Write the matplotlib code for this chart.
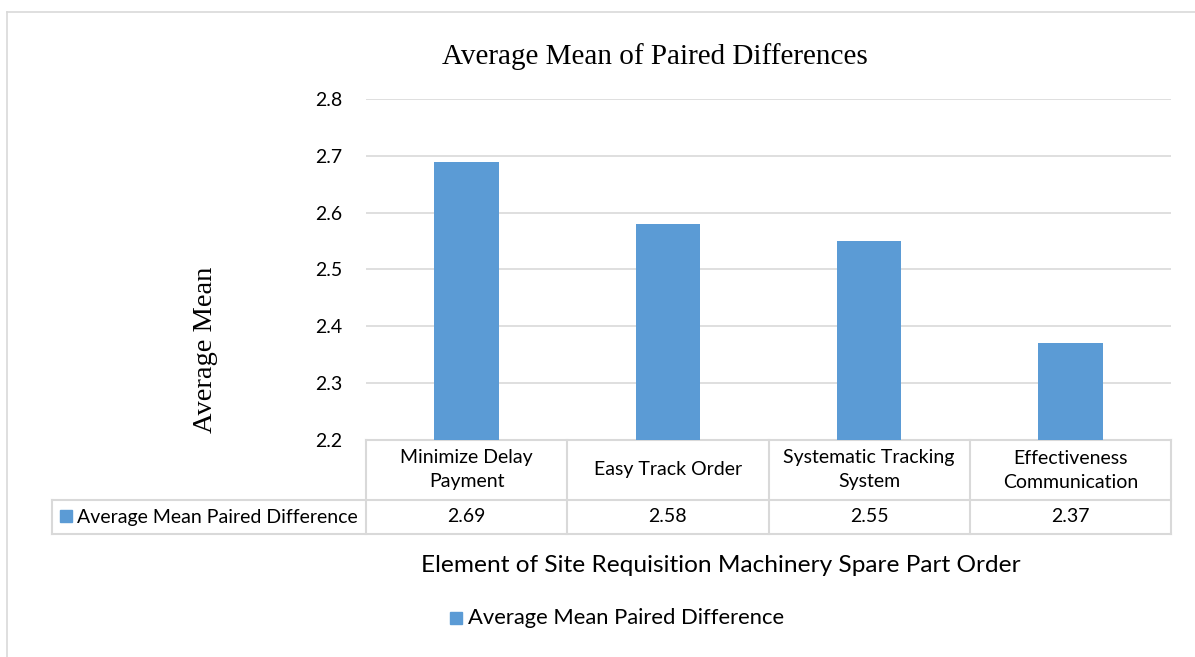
import matplotlib.pyplot as plt
import matplotlib.transforms as mtransforms

# Chart data
categories = ['Minimize Delay\nPayment', 'Easy Track Order',
              'Systematic Tracking\nSystem', 'Effectiveness\nCommunication']
values = [2.69, 2.58, 2.55, 2.37]
value_labels = ['2.69', '2.58', '2.55', '2.37']
series_name = 'Average Mean Paired Difference'
y_ticks = [2.2, 2.3, 2.4, 2.5, 2.6, 2.7, 2.8]

bar_color = '#5B9BD5'
grid_color = '#D9D9D9'
sans = ['Lato', 'DejaVu Sans']
serif = ['Liberation Serif', 'DejaVu Serif']

W, H = 1195, 657
fig = plt.figure(figsize=(W / 100, H / 100), dpi=100)

# plot area in pixels: left 366, right 1171, top 99, bottom 440
ax = fig.add_axes([366 / W, 1 - 440 / H, 805 / W, 341 / H])
x = list(range(len(categories)))
ax.bar(x, values, width=0.32, color=bar_color, zorder=3)
ax.set_xlim(-0.5, len(categories) - 0.5)
ax.set_ylim(2.2, 2.8)
ax.set_yticks(y_ticks)
ax.set_yticklabels([f'{t:.1f}' for t in y_ticks], family=sans, fontsize=14)
ax.tick_params(axis='y', length=0, pad=17)
ax.set_xticks([])
for s in ax.spines.values():
    s.set_visible(False)
ax.yaxis.grid(True, color=grid_color, linewidth=1.2, zorder=0)
ax.set_axisbelow(True)

# data table under the plot area (x in data units, y in axes units)
tr = mtransforms.blended_transform_factory(ax.transData, ax.transAxes)
row1 = -60 / 341
row2 = -94 / 341
left_edge = -0.5 - 314 / 201.25
n = len(categories)
line_kw = dict(color=grid_color, linewidth=1.5, transform=tr, clip_on=False)
ax.plot([-0.5, n - 0.5], [0, 0], **line_kw)
ax.plot([left_edge, n - 0.5], [row1, row1], **line_kw)
ax.plot([left_edge, n - 0.5], [row2, row2], **line_kw)
ax.plot([left_edge, left_edge], [row1, row2], **line_kw)
for i in range(n + 1):
    ax.plot([i - 0.5, i - 0.5], [0, row2], **line_kw)
for i, (cat, lab) in enumerate(zip(categories, value_labels)):
    ax.text(i, row1 / 2, cat, transform=tr, ha='center', va='center',
            family=sans, fontsize=14, linespacing=1.5)
    ax.text(i, (row1 + row2) / 2, lab, transform=tr, ha='center', va='center',
            family=sans, fontsize=14)

# row header with its colour key
key_x = left_edge + 8 / 201.25
ax.add_patch(plt.Rectangle((key_x, (row1 + row2) / 2 - 5 / 341), 12 / 201.25, 12 / 341,
                           transform=tr, color=bar_color, clip_on=False))
ax.text(key_x + 17 / 201.25, (row1 + row2) / 2, series_name, transform=tr,
        ha='left', va='center', family=sans, fontsize=14)

# titles
fig.text(655 / W, 1 - 57 / H, 'Average Mean of Paired Differences',
         ha='center', va='center', family=serif, fontsize=21)
fig.text(205 / W, 1 - 350 / H, 'Average Mean', rotation=90,
         ha='center', va='center', family=serif, fontsize=20.5)
fig.text(721 / W, 1 - 565 / H, 'Element of Site Requisition Machinery Spare Part Order',
         ha='center', va='center', family=sans, fontsize=17.6)

# legend below the axis title
fig.patches.append(plt.Rectangle((450 / W, 1 - 624 / H), 12 / W, 12 / H,
                                 transform=fig.transFigure, color=bar_color))
fig.text(468 / W, 1 - 618 / H, series_name, ha='left', va='center',
         family=sans, fontsize=15.8)

# chart frame (top and left edges)
fig.add_artist(plt.Line2D([7 / W, 1], [1 - 12 / H, 1 - 12 / H], color=grid_color,
                          linewidth=1.2, transform=fig.transFigure))
fig.add_artist(plt.Line2D([7 / W, 7 / W], [0, 1 - 12 / H], color=grid_color,
                          linewidth=1.2, transform=fig.transFigure))

fig.savefig('out.png', dpi=100)
